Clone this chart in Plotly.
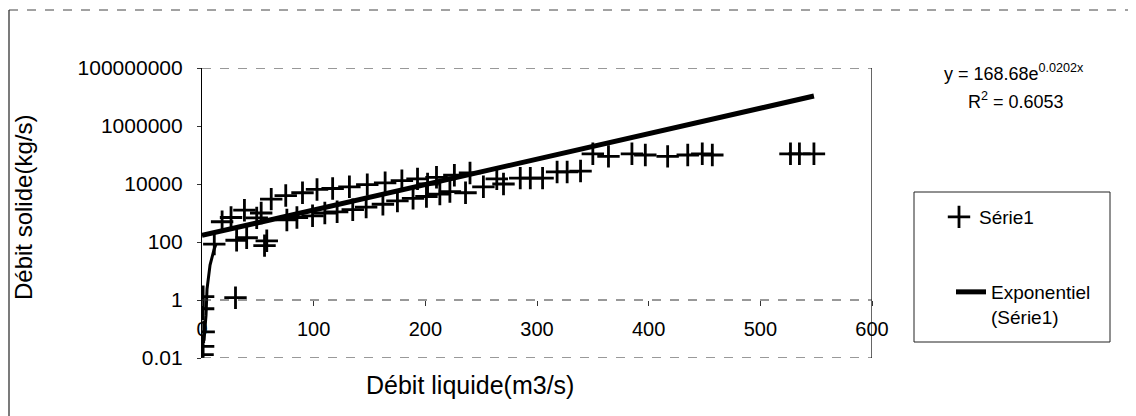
import numpy as np
import plotly.graph_objects as go

# ---------------- data ----------------
q_liquide = [0.5, 1, 1.5, 1, 1, 30,
             11, 31, 40, 56, 58,
             18, 26, 38, 49, 53,
             62, 75, 90, 103, 117, 132, 148, 164, 179, 193, 210, 226, 240,
             76, 85, 99, 110, 121, 135, 147, 162, 175, 189, 201, 213, 222, 236,
             202, 252, 264, 270, 285, 294, 305, 318, 327, 339,
             350, 364, 385, 397, 417, 435, 448, 457, 527, 535, 548]
q_solide = [0.013, 0.025, 0.08, 0.5, 1.3, 1.2,
            85, 115, 140, 75, 110,
            500, 700, 1250, 680, 1000,
            3000, 4000, 5000, 6500, 7000, 8000, 9500, 11000, 13000, 15000, 17000, 20000, 24000,
            575, 700, 800, 1000, 1100, 1300, 1600, 2000, 2600, 3200, 3700, 4500, 5500, 5000,
            10000, 8000, 15000, 10000, 16000, 16000, 16000, 26000, 26000, 28000,
            110000, 90000, 110000, 100000, 90000, 100000, 110000, 100000, 110000, 110000, 110000]

# curve drawn near the origin
courbe_x = [1.8, 3.6, 4.5, 7.2, 10.8, 12.6]
courbe_y = [0.04, 0.3, 2.4, 16, 55, 85]

# exponential trend: y = a * exp(b x)
trend_a = 168.68
trend_b = 0.0202
trend_x_max = 548

y_tickvals = [0.01, 1, 100, 10000, 1000000, 100000000]
y_ticktext = ["0.01", "1", "100", "10000", "1000000", "100000000"]
x_tickvals = [0, 100, 200, 300, 400, 500, 600]

# ---------------- figure ----------------
W, H = 1136, 416
L, R, T, B = 194, 1136 - 864, 60, 416 - 350
PW, PH = W - L - R, H - T - B

def px_x(p):
    return (p - L) / PW

def px_y(p):
    return (H - B - p) / PH

FONT = "Liberation Sans, Arial, sans-serif"

fig = go.Figure()

fig.add_trace(go.Scatter(
    x=courbe_x, y=courbe_y, mode="lines",
    line=dict(color="black", width=3), showlegend=False, hoverinfo="skip"))

fig.add_trace(go.Scatter(
    x=q_liquide, y=q_solide, mode="markers", name="Série1",
    marker=dict(symbol="cross-thin", size=16, line=dict(color="black", width=2.8)),
    legend="legend"))

tx = np.linspace(0, trend_x_max, 60)
ty = trend_a * np.exp(trend_b * tx)
fig.add_trace(go.Scatter(
    x=tx, y=ty, mode="lines", name="Exponentiel<br>(Série1)",
    line=dict(color="black", width=5), legend="legend2"))

shapes = []
# plot area border pieces
shapes.append(dict(type="line", xref="x", yref="y", x0=0, x1=600, y0=1e8, y1=1e8,
                   line=dict(color="#333", width=1, dash="dash")))
shapes.append(dict(type="line", xref="x", yref="y", x0=0, x1=600, y0=0.01, y1=0.01,
                   line=dict(color="#333", width=1, dash="dash")))
shapes.append(dict(type="line", xref="x", yref="y", x0=600, x1=600, y0=0.01, y1=1e8,
                   line=dict(color="black", width=1.2)))
# x axis crossing at y = 1
shapes.append(dict(type="line", xref="x", yref="y", x0=0, x1=600, y0=1, y1=1,
                   line=dict(color="#333", width=1, dash="dash")))
# legend box
shapes.append(dict(type="rect", xref="paper", yref="paper",
                   x0=px_x(906), x1=px_x(1102), y0=px_y(334), y1=px_y(184),
                   line=dict(color="#222", width=1)))
# outer chart border (top and left)
shapes.append(dict(type="line", xref="paper", yref="paper",
                   x0=px_x(1), x1=px_x(1134), y0=px_y(2), y1=px_y(2),
                   line=dict(color="#444", width=1, dash="dash")))
shapes.append(dict(type="line", xref="paper", yref="paper",
                   x0=px_x(1), x1=px_x(1), y0=px_y(2), y1=px_y(416),
                   line=dict(color="#222", width=1.2)))

annotations = [
    dict(text="y = 168.68e<sup>0.0202x</sup>", xref="paper", yref="paper",
         x=px_x(1006), y=px_y(64), xanchor="center", yanchor="middle", showarrow=False,
         font=dict(family=FONT, size=18, color="black")),
    dict(text="R<sup>2</sup> = 0.6053", xref="paper", yref="paper",
         x=px_x(1008), y=px_y(92), xanchor="center", yanchor="middle", showarrow=False,
         font=dict(family=FONT, size=18, color="black")),
    dict(text="Débit liquide(m3/s)", xref="paper", yref="paper",
         x=px_x(462), y=px_y(377), xanchor="center", yanchor="middle", showarrow=False,
         font=dict(family=FONT, size=25, color="black")),
    dict(text="Débit solide(kg/s)", xref="paper", yref="paper",
         x=px_x(15), y=px_y(200), xanchor="center", yanchor="middle",
         showarrow=False, textangle=-90,
         font=dict(family=FONT, size=24, color="black")),
]

fig.update_layout(
    width=W, height=H,
    margin=dict(l=L, r=R, t=T, b=B, pad=0),
    paper_bgcolor="white", plot_bgcolor="white",
    font=dict(family=FONT, size=20, color="black"),
    xaxis=dict(range=[0, 600], tickvals=x_tickvals, showgrid=False, zeroline=False,
               showline=False, ticks="outside", ticklen=5, tickcolor="#333",
               anchor="free", position=0.2, ticklabelstandoff=6,
               ticklabeloverflow="allow",
               tickfont=dict(family=FONT, size=20)),
    yaxis=dict(type="log", range=[-2, 8], tickvals=y_tickvals, ticktext=y_ticktext,
               showgrid=False, zeroline=False, showline=True, linecolor="black",
               linewidth=1.2, ticks="outside", ticklen=4, tickcolor="#333",
               ticklabelstandoff=10, tickfont=dict(family=FONT, size=21)),
    legend=dict(x=px_x(931), y=px_y(190), xanchor="left", yanchor="top",
                bgcolor="rgba(0,0,0,0)", borderwidth=0,
                font=dict(family=FONT, size=19)),
    legend2=dict(x=px_x(943), y=px_y(265), xanchor="left", yanchor="top",
                 bgcolor="rgba(0,0,0,0)", borderwidth=0, valign="top",
                 font=dict(family=FONT, size=19)),
    shapes=shapes,
    annotations=annotations,
)

fig.write_html("out.html")
